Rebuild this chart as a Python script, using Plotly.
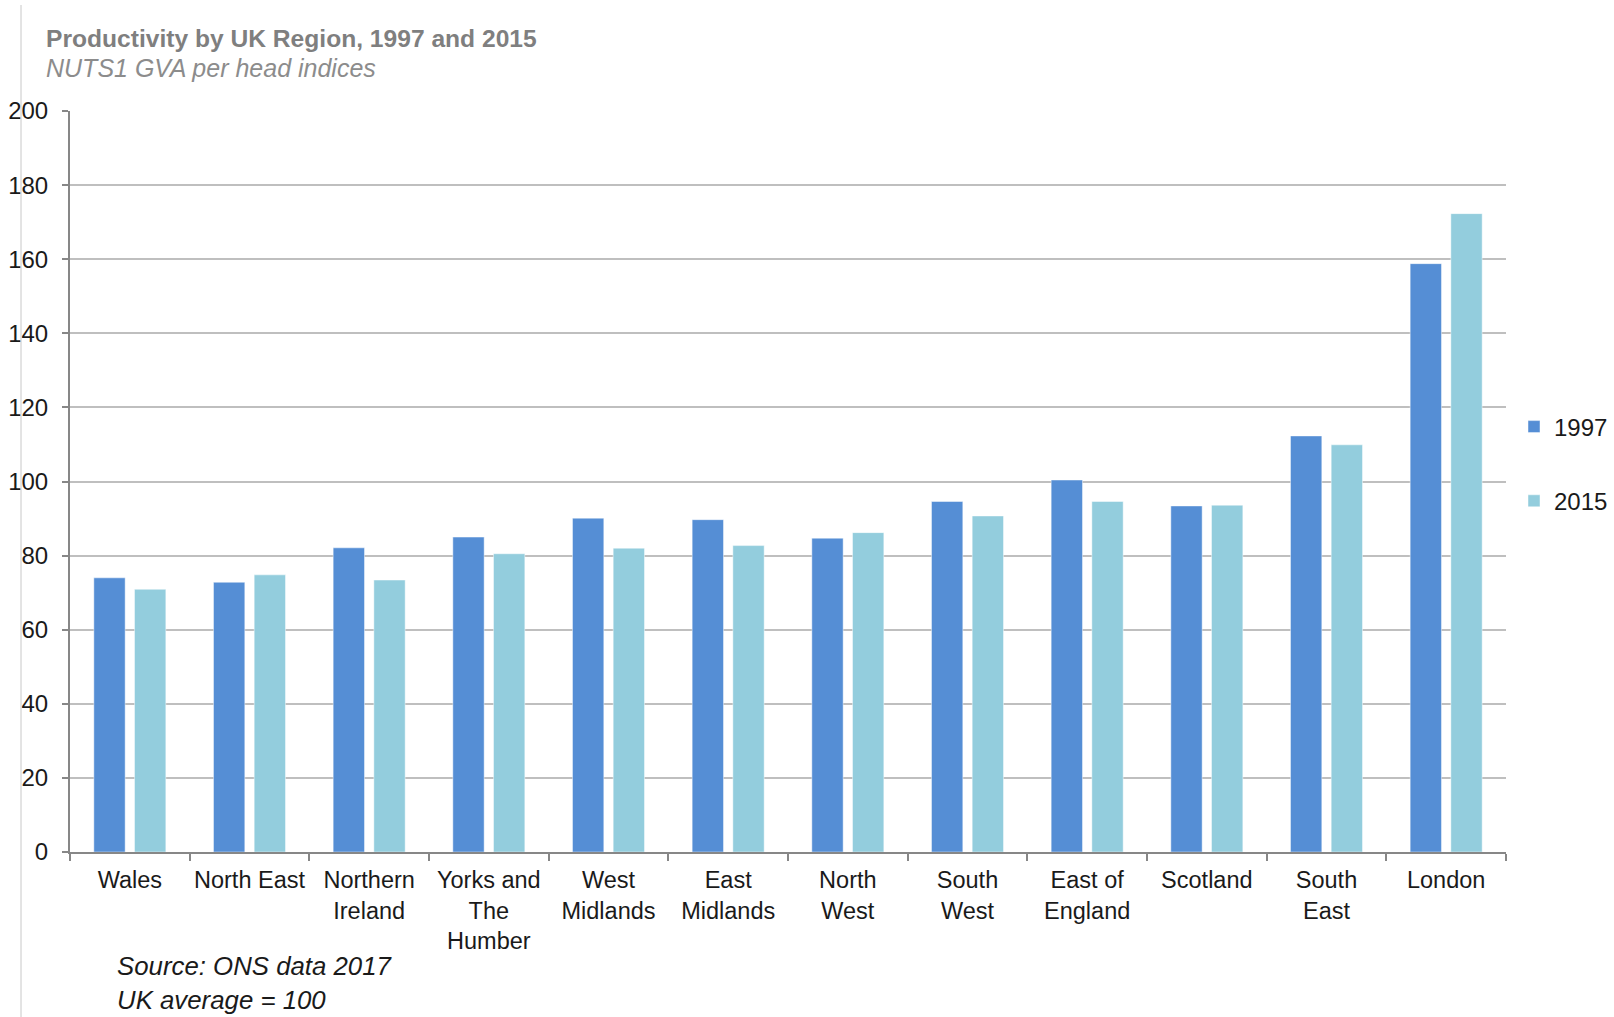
import plotly.graph_objects as go

# Regions, ordered by 2015 productivity
regions = ["Wales", "North East", "Northern Ireland", "Yorks and The Humber",
           "West Midlands", "East Midlands", "North West", "South West",
           "East of England", "Scotland", "South East", "London"]
region_labels = ["Wales", "North East", "Northern<br>Ireland", "Yorks and<br>The<br>Humber",
                 "West<br>Midlands", "East<br>Midlands", "North<br>West", "South<br>West",
                 "East of<br>England", "Scotland", "South<br>East", "London"]

# GVA per head index (UK = 100)
gva_1997 = [74.0, 72.8, 82.1, 85.0, 90.1, 89.7, 84.7, 94.6, 100.4, 93.4, 112.3, 158.8]
gva_2015 = [70.9, 74.8, 73.4, 80.5, 82.0, 82.7, 86.2, 90.7, 94.6, 93.6, 109.9, 172.3]

y_ticks = [0, 20, 40, 60, 80, 100, 120, 140, 160, 180, 200]

FONT = "Liberation Sans, Arial, sans-serif"
W, H = 1614, 1017
L, R, T, B = 70, 108, 111, 165
PW, PH = W - L - R, H - T - B


def px_x(x):
    return (x - L) / PW


def px_y(y):
    return (H - B - y) / PH


fig = go.Figure()
fig.add_trace(go.Bar(
    x=regions, y=gva_1997, name="1997", legendgroup="a",
    marker=dict(color="#558ED5", line=dict(color="rgba(255,255,255,0.45)", width=1)),
))
fig.add_trace(go.Bar(
    x=regions, y=gva_2015, name="2015", legendgroup="b",
    marker=dict(color="#93CDDD", line=dict(color="rgba(255,255,255,0.45)", width=1)),
))

fig.update_layout(
    width=W, height=H,
    margin=dict(l=L, r=R, t=T, b=B, pad=0, autoexpand=False),
    paper_bgcolor="white", plot_bgcolor="white",
    barmode="group", bargap=0.32, bargroupgap=0.23,
    font=dict(family=FONT, size=23, color="#1a1a1a"),
    showlegend=True,
    legend=dict(
        xref="container", yref="container",
        x=1514 / W, y=1 - 464 / H, xanchor="left", yanchor="middle",
        orientation="v", tracegroupgap=40,
        font=dict(family=FONT, size=24, color="#1a1a1a"),
        bgcolor="rgba(0,0,0,0)",
    ),
    xaxis=dict(
        tickmode="array", tickvals=regions, ticktext=region_labels,
        tickson="boundaries", ticks="outside", ticklen=7, tickwidth=2,
        tickcolor="#878787", showline=True, linecolor="#878787", linewidth=2,
        showgrid=False, tickangle=0, ticklabelstandoff=6,
        tickfont=dict(family=FONT, size=23.5, color="#1a1a1a"),
    ),
    yaxis=dict(
        range=[0, 200], tickmode="array", tickvals=y_ticks,
        ticks="outside", ticklen=6, tickwidth=2, tickcolor="#878787",
        showline=True, linecolor="#878787", linewidth=2,
        showgrid=True, gridcolor="#BFBFBF", gridwidth=2,
        zeroline=False, ticklabelstandoff=9,
        tickfont=dict(family=FONT, size=24, color="#1a1a1a"),
    ),
    annotations=[
        dict(text="<b>Productivity by UK Region, 1997 and 2015</b>",
             xref="paper", yref="paper", x=px_x(44), y=px_y(39),
             xanchor="left", yanchor="middle", showarrow=False,
             font=dict(family=FONT, size=24.6, color="#7F7F7F")),
        dict(text="<i>NUTS1 GVA per head indices</i>",
             xref="paper", yref="paper", x=px_x(44), y=px_y(68),
             xanchor="left", yanchor="middle", showarrow=False,
             font=dict(family=FONT, size=25, color="#8C8C8C")),
        dict(text="<i>Source: ONS data 2017<br>UK average = 100</i>",
             xref="paper", yref="paper", x=px_x(115), y=px_y(983),
             xanchor="left", yanchor="middle", align="left", showarrow=False,
             font=dict(family=FONT, size=25.8, color="#1a1a1a")),
    ],
    shapes=[
        dict(type="line", xref="paper", yref="paper",
             x0=px_x(21), x1=px_x(21), y0=px_y(5), y1=px_y(H),
             line=dict(color="#C8C8C8", width=1)),
    ],
)

fig.write_html("out.html")
